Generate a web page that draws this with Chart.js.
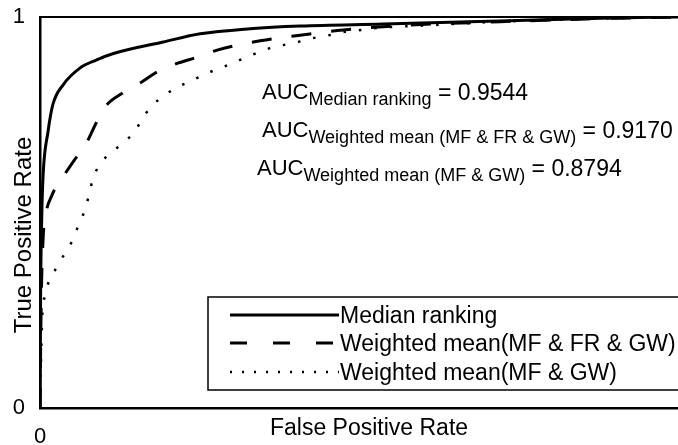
<!DOCTYPE html>
<html>
<head>
<meta charset="utf-8">
<script src="https://cdn.jsdelivr.net/npm/chart.js@4/dist/chart.umd.min.js"></script>
<style>
  html, body { margin: 0; padding: 0; background: #fff; }
  canvas { display: block; }
</style>
</head>
<body>
<canvas id="rocChart" width="678" height="445"></canvas>
<script>
// values (false positive rate / true positive rate)
const medianFpr = [0, 0.001, 0.003, 0.005, 0.0125, 0.020, 0.036, 0.063, 0.088, 0.114, 0.193, 0.251, 0.329, 0.408, 0.538, 0.721, 0.878, 1];
const medianTpr = [0, 0.30, 0.506, 0.60, 0.706, 0.775, 0.826, 0.870, 0.890, 0.906, 0.936, 0.957, 0.970, 0.977, 0.982, 0.990, 0.997, 1];

const wmAllFpr = [0, 0.002, 0.005, 0.008, 0.019, 0.034, 0.053, 0.072, 0.088, 0.102, 0.130, 0.157, 0.188, 0.216, 0.248, 0.279, 0.345, 0.411, 0.475, 0.564, 0.721, 0.878, 1];
const wmAllTpr = [0, 0.28, 0.437, 0.486, 0.545, 0.586, 0.632, 0.675, 0.729, 0.770, 0.806, 0.831, 0.864, 0.882, 0.898, 0.916, 0.939, 0.954, 0.967, 0.978, 0.988, 0.996, 1];

const wmTwoFpr = [0, 0.002, 0.004, 0.008, 0.014, 0.027, 0.039, 0.052, 0.061, 0.071, 0.077, 0.083, 0.094, 0.111, 0.130, 0.149, 0.161, 0.177, 0.196, 0.216, 0.240, 0.263, 0.287, 0.309, 0.332, 0.356, 0.381, 0.404, 0.428, 0.455, 0.478, 0.505, 0.528, 0.600, 0.721, 0.878, 1];
const wmTwoTpr = [0, 0.15, 0.25, 0.286, 0.325, 0.361, 0.396, 0.432, 0.471, 0.509, 0.547, 0.586, 0.624, 0.652, 0.678, 0.708, 0.742, 0.775, 0.801, 0.821, 0.839, 0.857, 0.872, 0.887, 0.903, 0.918, 0.928, 0.936, 0.946, 0.954, 0.962, 0.967, 0.972, 0.978, 0.988, 0.996, 1];

const seriesNames = ['Median ranking', 'Weighted mean(MF & FR & GW)', 'Weighted mean(MF & GW)'];
const aucNames = ['Median ranking', 'Weighted mean (MF & FR & GW)', 'Weighted mean (MF & GW)'];
const aucValues = ['0.9544', '0.9170', '0.8794'];
const xTickValues = [0];
const yTickValues = [0, 1];
const xTitle = 'False Positive Rate';
const yTitle = 'True Positive Rate';

const FONT = "'Liberation Sans', Arial, sans-serif";

function toPoints(xs, ys) {
    return xs.map((x, i) => ({ x: x, y: ys[i] }));
}

// line looks: plot dash / legend sample dash
const lineDash = [[], [20, 20], [2.5, 13]];
const legendDash = [[], [17, 26], [2, 10]];
const lineWidths = [3, 3, 2.5];

// extra drawing: top frame line, axis titles, AUC notes, boxed legend
const extras = {
    id: 'extras',
    afterDraw(chart) {
        const ctx = chart.ctx;
        const area = chart.chartArea;
        ctx.save();
        ctx.strokeStyle = '#000';
        ctx.fillStyle = '#000';

        // top frame
        ctx.lineWidth = 2;
        ctx.beginPath();
        ctx.moveTo(area.left, area.top);
        ctx.lineTo(chart.width, area.top);
        ctx.stroke();

        // axis titles
        ctx.textBaseline = 'alphabetic';
        ctx.textAlign = 'center';
        ctx.font = '23px ' + FONT;
        ctx.fillText(xTitle, 369, 435);
        ctx.save();
        ctx.translate(31, 235);
        ctx.rotate(-Math.PI / 2);
        ctx.font = '24px ' + FONT;
        ctx.fillText(yTitle, 0, 0);
        ctx.restore();

        // AUC notes with subscripts
        ctx.textAlign = 'left';
        const aucX = [262, 262, 257];
        const aucY = [99, 137, 175];
        aucNames.forEach((name, i) => {
            let x = aucX[i];
            ctx.font = '22px ' + FONT;
            ctx.fillText('AUC', x, aucY[i]);
            x += ctx.measureText('AUC').width;
            ctx.font = '18px ' + FONT;
            ctx.fillText(name, x, aucY[i] + 6);
            x += ctx.measureText(name).width;
            ctx.font = '23px ' + FONT;
            ctx.fillText(' = ' + aucValues[i], x, aucY[i] + 1);
        });

        // legend box
        ctx.lineWidth = 1.5;
        ctx.setLineDash([]);
        ctx.strokeRect(208, 297, 520, 93);
        const rowY = [315, 343, 372];
        chart.data.datasets.forEach((ds, i) => {
            ctx.save();
            ctx.lineWidth = ds.borderWidth;
            ctx.setLineDash(legendDash[i]);
            ctx.beginPath();
            ctx.moveTo(230, rowY[i]);
            ctx.lineTo(339, rowY[i]);
            ctx.stroke();
            ctx.restore();
            ctx.font = '23px ' + FONT;
            ctx.fillText(ds.label, 340, rowY[i] + 8);
        });
        ctx.restore();
    }
};

new Chart(document.getElementById('rocChart'), {
    type: 'line',
    data: {
        datasets: [
            { label: seriesNames[0], data: toPoints(medianFpr, medianTpr) },
            { label: seriesNames[1], data: toPoints(wmAllFpr, wmAllTpr) },
            { label: seriesNames[2], data: toPoints(wmTwoFpr, wmTwoTpr) }
        ].map((ds, i) => Object.assign(ds, {
            borderColor: '#000',
            borderWidth: lineWidths[i],
            borderDash: lineDash[i],
            pointRadius: 0,
            fill: false,
            cubicInterpolationMode: 'monotone'
        }))
    },
    options: {
        responsive: false,
        animation: false,
        layout: { padding: { top: 17, left: 0, right: 0, bottom: 0 } },
        plugins: {
            legend: { display: false },
            tooltip: { enabled: false }
        },
        scales: {
            x: {
                type: 'linear',
                min: 0,
                max: 1,
                grid: { display: false, drawTicks: false },
                border: { display: true, color: '#000', width: 2.5 },
                ticks: {
                    maxRotation: 0,
                    padding: 16,
                    color: '#000',
                    font: { family: FONT, size: 22 }
                },
                afterBuildTicks: s => { s.ticks = xTickValues.map(v => ({ value: v })); },
                afterFit: s => { s.height = 37; s.paddingLeft = 0; s.paddingRight = 0; }
            },
            y: {
                type: 'linear',
                min: 0,
                max: 1,
                grid: { display: false, drawTicks: false },
                border: { display: true, color: '#000', width: 2.5 },
                ticks: {
                    padding: 15,
                    color: '#000',
                    font: { family: FONT, size: 22 }
                },
                afterBuildTicks: s => { s.ticks = yTickValues.map(v => ({ value: v })); },
                afterFit: s => { s.width = 40; s.paddingTop = 0; s.paddingBottom = 0; }
            }
        }
    },
    plugins: [extras]
});
</script>
</body>
</html>
